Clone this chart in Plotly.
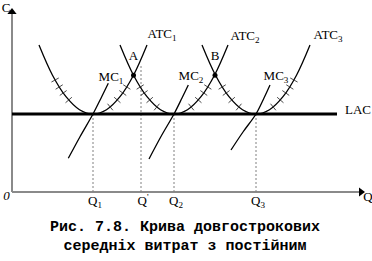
import numpy as np
import plotly.graph_objects as go

# ---- data (axis units: quantity Q, cost C) ----
Q_TICK_LABELS = ["Q<sub>1</sub>", "Q<sup>'</sup>", "Q<sub>2</sub>", "Q<sub>3</sub>"]
Q_TICK_VALUES = [8.1, 12.9, 16.2, 24.4]
Q_DASH_TOPS = [7.8, 12.8, 7.8, 7.8]
LAC_LEVEL = 7.8
LAC_END = 32.5

ATC1_Q = [2.7, 4.05, 5.4, 6.75, 8.1, 9.45, 10.8, 12.15, 13.5]
ATC1_C = [14.7, 11.68, 9.53, 8.23, 7.8, 8.23, 9.53, 11.68, 14.7]
ATC2_Q = [10.8, 12.15, 13.5, 14.85, 16.2, 17.55, 18.9, 20.25, 21.6]
ATC2_C = [14.7, 11.68, 9.53, 8.23, 7.8, 8.23, 9.53, 11.68, 14.7]
ATC3_Q = [19.0, 20.35, 21.7, 23.05, 24.4, 25.75, 27.1, 28.45, 29.8]
ATC3_C = [14.7, 11.68, 9.53, 8.23, 7.8, 8.23, 9.53, 11.68, 14.7]

MC1_Q = [5.63, 6.8, 8.1, 8.97, 9.63]
MC1_C = [3.37, 5.53, 7.8, 9.53, 10.87]
MC2_Q = [13.7, 14.9, 16.2, 17.0, 17.63]
MC2_C = [3.3, 5.55, 7.8, 9.4, 10.7]
MC3_Q = [21.9, 23.1, 24.4, 25.2, 25.8]
MC3_C = [4.2, 6.0, 7.8, 9.4, 10.7]

# hatch marks on the ATC curves
TICKS1_Q = [4.31, 4.72, 5.12, 5.67, 9.82, 10.53, 11.08, 11.48]
TICKS1_C = [11.2, 10.5, 9.9, 9.2, 8.5, 9.2, 9.9, 10.5]
TICKS2_Q = [12.82, 13.22, 13.77, 14.48, 17.92, 18.63, 19.18, 19.58]
TICKS2_C = [10.5, 9.9, 9.2, 8.5, 8.5, 9.2, 9.9, 10.5]
TICKS3_Q = [21.02, 21.42, 21.97, 22.68, 26.12, 26.83, 27.38, 27.78, 28.19]
TICKS3_C = [10.5, 9.9, 9.2, 8.5, 8.5, 9.2, 9.9, 10.5, 11.2]

POINTS_Q = [12.15, 20.3]
POINTS_C = [11.68, 11.68]
POINT_LABELS = ["A", "B"]

CURVE_LABELS = ["ATC<sub>1</sub>", "ATC<sub>2</sub>", "ATC<sub>3</sub>",
                "MC<sub>1</sub>", "MC<sub>2</sub>", "MC<sub>3</sub>", "LAC"]
CURVE_LABEL_Q = [15.0, 23.3, 31.6, 9.9, 17.9, 26.4, 34.6]
CURVE_LABEL_C = [15.7, 15.5, 15.6, 11.4, 11.5, 11.5, 8.1]

CAPTION_LINES = ["Рис. 7.8. Крива довгострокових", "середніх витрат з постійним"]
CAPTION_C = [-3.5, -5.4]

X_AXIS_END = 34.9
Y_AXIS_END = 18.0

fig = go.Figure()

SERIF = "Liberation Serif"
LABEL_SIZE = 13
CAPTION_SIZE = 15

# axes
fig.add_trace(go.Scatter(x=[0, X_AXIS_END], y=[0, 0], mode="lines",
                         line=dict(color="#8a8a8a", width=2), hoverinfo="skip"))
fig.add_trace(go.Scatter(x=[0, 0], y=[0, Y_AXIS_END], mode="lines",
                         line=dict(color="#8a8a8a", width=2), hoverinfo="skip"))
fig.add_trace(go.Scatter(x=[X_AXIS_END], y=[0], mode="markers",
                         marker=dict(symbol="triangle-right", size=8, color="black")))
fig.add_trace(go.Scatter(x=[0], y=[Y_AXIS_END], mode="markers",
                         marker=dict(symbol="triangle-up", size=8, color="black")))

# dashed guide lines
for qv, top in zip(Q_TICK_VALUES, Q_DASH_TOPS):
    fig.add_trace(go.Scatter(x=[qv, qv], y=[0, top], mode="lines",
                             line=dict(color="#808080", width=1, dash="2px,2px")))

# LAC
fig.add_trace(go.Scatter(x=[0, LAC_END], y=[LAC_LEVEL, LAC_LEVEL], mode="lines",
                         line=dict(color="black", width=3)))

# ATC curves
for qs, cs in [(ATC1_Q, ATC1_C), (ATC2_Q, ATC2_C), (ATC3_Q, ATC3_C)]:
    fig.add_trace(go.Scatter(x=qs, y=cs, mode="lines",
                             line=dict(color="black", width=1.3, shape="spline")))

# MC curves
for qs, cs in [(MC1_Q, MC1_C), (MC2_Q, MC2_C), (MC3_Q, MC3_C)]:
    fig.add_trace(go.Scatter(x=qs, y=cs, mode="lines",
                             line=dict(color="black", width=1.3, shape="spline")))

# hatch marks, oriented perpendicular to their curve
for (qs, cs), (tq, tc) in zip(
        [(ATC1_Q, ATC1_C), (ATC2_Q, ATC2_C), (ATC3_Q, ATC3_C)],
        [(TICKS1_Q, TICKS1_C), (TICKS2_Q, TICKS2_C), (TICKS3_Q, TICKS3_C)]):
    grad = np.gradient(np.array(cs), np.array(qs))
    slopes = np.interp(tq, qs, grad)
    angles = [float(np.degrees(np.arctan(abs(s)))) * (1 if s < 0 else -1) for s in slopes]
    fig.add_trace(go.Scatter(x=tq, y=tc, mode="markers",
                             marker=dict(symbol="line-ns", size=6, angle=angles,
                                         color="#333333",
                                         line=dict(color="#333333", width=0.9))))

# A, B points
fig.add_trace(go.Scatter(x=POINTS_Q, y=POINTS_C, mode="markers",
                         marker=dict(symbol="circle", size=5, color="black")))

label_font = dict(family=SERIF, size=LABEL_SIZE, color="black")

# text labels drawn as text traces
fig.add_trace(go.Scatter(x=CURVE_LABEL_Q, y=CURVE_LABEL_C, mode="text",
                         text=CURVE_LABELS, textposition="middle center",
                         textfont=label_font, cliponaxis=False))
fig.add_trace(go.Scatter(x=POINTS_Q, y=[c + 1.8 for c in POINTS_C], mode="text",
                         text=POINT_LABELS, textposition="middle center",
                         textfont=label_font, cliponaxis=False))
fig.add_trace(go.Scatter(x=[q + 0.2 for q in Q_TICK_VALUES], y=[-1.0] * len(Q_TICK_VALUES),
                         mode="text", text=Q_TICK_LABELS, textposition="middle center",
                         textfont=label_font, cliponaxis=False))
fig.add_trace(go.Scatter(x=[35.6, -0.55, -0.6], y=[-0.6, -0.5, 18.3], mode="text",
                         text=["Q", "<i>0</i>", "C"], textposition="middle center",
                         textfont=label_font, cliponaxis=False))
fig.add_trace(go.Scatter(x=[17.3, 17.3], y=CAPTION_C, mode="text",
                         text=["<b>" + t + "</b>" for t in CAPTION_LINES],
                         textposition="middle center", cliponaxis=False,
                         textfont=dict(family="Liberation Mono", size=CAPTION_SIZE,
                                       color="black")))

fig.update_layout(
    width=372, height=261,
    margin=dict(l=0, r=0, t=0, b=0),
    paper_bgcolor="white", plot_bgcolor="white",
    showlegend=False,
    xaxis=dict(range=[-1.2, 36.0], visible=False, fixedrange=True),
    yaxis=dict(range=[-6.9, 19.2], visible=False, fixedrange=True),
)

fig.write_html("out.html")
